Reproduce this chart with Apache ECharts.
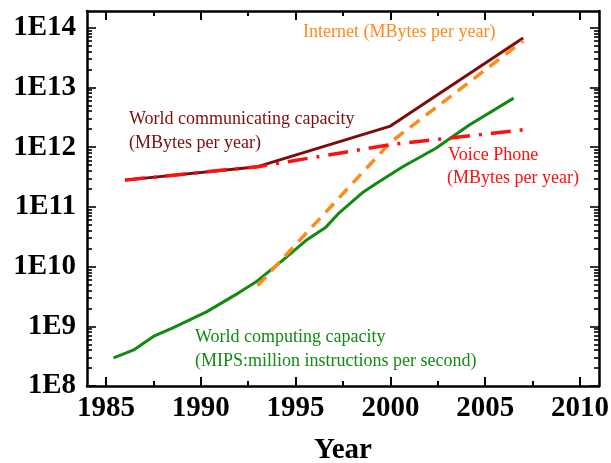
<!DOCTYPE html>
<html>
<head>
<meta charset="utf-8">
<script src="https://cdn.jsdelivr.net/npm/echarts@6.0.0/dist/echarts.min.js"></script>
<style>
html,body{margin:0;padding:0;background:#fff;}
#chart{width:611px;height:463px;}
</style>
</head>
<body>
<div id="chart"></div>
<script>
// ---- data ----
const commYears = [1986, 1993, 2000, 2007];
const worldComm = [2.8e11, 4.7e11, 2.25e12, 6.7e13];

const voiceYears = [1986, 1993, 2000, 2007];
const voicePhone = [2.8e11, 4.7e11, 1.1e12, 1.95e12];

const internetYears = [1993, 2000, 2007];
const internet = [4.8e9, 1.2e12, 6.0e13];

const computeYears = [1985.4, 1986.5, 1987.5, 1988.5, 1990.3, 1992.0, 1992.9, 1994.3, 1995.6, 1996.6, 1997.3, 1998.5, 1999.25, 2000.65, 2002.4, 2004.16, 2006.5];
const worldCompute = [2.95e8, 4.07e8, 6.76e8, 9.3e8, 1.74e9, 3.63e9, 5.5e9, 1.26e10, 2.82e10, 4.57e10, 7.94e10, 1.7e11, 2.45e11, 4.68e11, 9.55e11, 2.34e12, 6.6e12];

const xLabels = [1985, 1990, 1995, 2000, 2005, 2010];
const xMinorTicks = [1987.5, 1992.5, 1997.5, 2002.5, 2007.5];
const yLabels = [1e8, 1e9, 1e10, 1e11, 1e12, 1e13, 1e14];
const yMinorTicks = [];
for (let e = 8; e < 14; e++) for (let m = 2; m <= 9; m++) yMinorTicks.push(m * Math.pow(10, e));

function pairs(xs, ys) { return xs.map((x, i) => [x, ys[i]]); }

const COL_COMM = '#7d0c0c';
const COL_VOICE = '#ff1010';
const COL_NET = '#ff8a1a';
const COL_COMP = '#118a11';
const AXIS = '#000';
const SERIF = '"Liberation Serif", "Times New Roman", serif';

const X_MIN = 1984, X_MAX = 2011;
const Y_MIN = 1e8, Y_MAX = 1.9e14;

function xAxisDef(pos, major, labels) {
  return {
    type: 'value', position: pos, min: X_MIN, max: X_MAX, gridIndex: 0,
    axisLine: { show: major, onZero: false, lineStyle: { color: AXIS, width: 2.5 } },
    axisTick: { show: true, inside: true, length: major ? 9 : 5,
      customValues: major ? xLabels : xMinorTicks, lineStyle: { color: AXIS, width: 2 } },
    axisLabel: labels ? { show: true, customValues: xLabels, margin: 8,
      fontFamily: SERIF, fontWeight: 'bold', fontSize: 29, color: '#000',
      formatter: v => String(Math.round(v)) } : { show: false },
    splitLine: { show: false },
    name: labels ? 'Year' : '',
    nameLocation: 'middle', nameGap: 50,
    nameTextStyle: { fontFamily: SERIF, fontWeight: 'bold', fontSize: 29, color: '#000' }
  };
}
function yAxisDef(pos, major, labels) {
  return {
    type: 'log', logBase: 10, position: pos, min: Y_MIN, max: Y_MAX, gridIndex: 0,
    axisLine: { show: major, onZero: false, lineStyle: { color: AXIS, width: 2.5 } },
    axisTick: { show: true, inside: true, length: major ? 9 : 5,
      customValues: major ? yLabels : yMinorTicks, lineStyle: { color: AXIS, width: 1.6 } },
    axisLabel: labels ? { show: true, customValues: yLabels, margin: 11,
      fontFamily: SERIF, fontWeight: 'bold', fontSize: 29, color: '#000',
      formatter: v => '1E' + Math.round(Math.log10(v)) } : { show: false },
    splitLine: { show: false }
  };
}

const chart = echarts.init(document.getElementById('chart'), null, { renderer: 'canvas' });
chart.setOption({
  animation: false,
  backgroundColor: '#fff',
  grid: { left: 87, right: 12, top: 11, bottom: 77, containLabel: false, outerBoundsMode: 'none' },
  xAxis: [
    xAxisDef('bottom', true, true),
    xAxisDef('bottom', false, false),
    xAxisDef('top', true, false),
    xAxisDef('top', false, false)
  ],
  yAxis: [
    yAxisDef('left', true, true),
    yAxisDef('left', false, false),
    yAxisDef('right', true, false),
    yAxisDef('right', false, false)
  ],
  series: [
    { name: 'World computing capacity', type: 'line', data: pairs(computeYears, worldCompute),
      showSymbol: false, smooth: false, lineStyle: { color: COL_COMP, width: 3 } },
    { name: 'World communicating capacity', type: 'line', data: pairs(commYears, worldComm),
      showSymbol: false, lineStyle: { color: COL_COMM, width: 3 } },
    { name: 'Internet', type: 'line', data: pairs(internetYears, internet),
      showSymbol: false, lineStyle: { color: COL_NET, width: 3.5, type: [12, 8] } },
    { name: 'Voice Phone', type: 'line', data: pairs(voiceYears, voicePhone),
      showSymbol: false, lineStyle: { color: COL_VOICE, width: 3.5, type: [20, 9, 3, 9] } }
  ],
  graphic: [
    { type: 'text', x: 303, y: 32, style: { text: 'Internet (MBytes per year)', fill: COL_NET,
      font: '18px ' + SERIF, verticalAlign: 'middle' } },
    { type: 'text', x: 129, y: 119, style: { text: 'World communicating capacity', fill: COL_COMM,
      font: '18px ' + SERIF, verticalAlign: 'middle' } },
    { type: 'text', x: 129, y: 143, style: { text: '(MBytes per year)', fill: COL_COMM,
      font: '18px ' + SERIF, verticalAlign: 'middle' } },
    { type: 'text', x: 448, y: 155, style: { text: 'Voice Phone', fill: COL_VOICE,
      font: '18px ' + SERIF, verticalAlign: 'middle' } },
    { type: 'text', x: 447, y: 178, style: { text: '(MBytes per year)', fill: COL_VOICE,
      font: '18px ' + SERIF, verticalAlign: 'middle' } },
    { type: 'text', x: 195, y: 337, style: { text: 'World computing capacity', fill: COL_COMP,
      font: '18px ' + SERIF, verticalAlign: 'middle' } },
    { type: 'text', x: 195, y: 361, style: { text: '(MIPS:million instructions per second)', fill: COL_COMP,
      font: '18px ' + SERIF, verticalAlign: 'middle' } }
  ]
});
</script>
</body>
</html>
